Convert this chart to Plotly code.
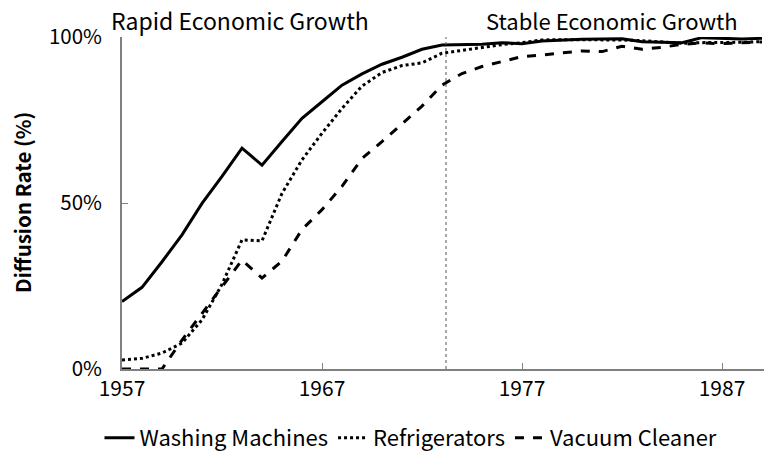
import plotly.graph_objects as go

years = list(range(1957, 1990))
washing = [20.3, 24.6, 32.3, 40.4, 49.9, 58.0, 66.5, 61.4, 68.5, 75.5, 80.5, 85.5, 88.9, 91.8, 93.9, 96.3, 97.6,
           97.6, 97.8, 98.3, 98.0, 98.8, 99.1, 99.3, 99.4, 99.5, 98.6, 98.4, 98.3, 99.8, 99.5, 99.4, 99.6]
fridge = [2.7, 3.2, 4.8, 7.8, 14.8, 25.5, 38.9, 38.6, 52.9, 63.0, 71.0, 78.5, 85.2, 89.3, 91.4, 92.2, 95.1,
          96.0, 97.0, 97.7, 98.3, 99.1, 99.2, 99.2, 99.1, 99.1, 98.9, 98.6, 98.1, 98.3, 98.3, 98.4, 98.6]
vacuum = [0.0, 0.0, 0.0, 8.7, 16.8, 24.8, 32.8, 27.4, 32.5, 42.0, 48.0, 55.0, 63.4, 68.5, 74.0, 79.2, 85.5,
          89.0, 91.1, 92.6, 94.1, 94.6, 95.3, 95.8, 95.6, 97.2, 96.3, 96.9, 97.8, 98.2, 98.0, 98.2, 98.5]
series_names = ["Washing Machines", "Refrigerators", "Vacuum Cleaner"]
period_labels = ["Rapid Economic Growth", "Stable Economic Growth"]
divider_year = 1973.2
x_ticks = [1957, 1967, 1977, 1987]
y_ticks = [0, 50, 100]
y_tick_text = ["0%", "50%", "100%"]

FONT = "Noto Sans CJK JP"
W, H = 764, 446

fig = go.Figure()
for vals, name, dash in zip([washing, fridge, vacuum], series_names, ["solid", "dot", "dash"]):
    fig.add_trace(go.Scatter(x=years, y=vals, name=name, mode="lines",
                             line=dict(color="black", width=3, dash=dash)))

fig.add_shape(type="line", x0=divider_year, x1=divider_year, y0=0, y1=1, xref="x", yref="paper",
              line=dict(color="#555555", width=1, dash="dot"))

fig.add_annotation(x=1962.9, y=1.0, xref="x", yref="paper", yshift=17, text=period_labels[0],
                   showarrow=False, xanchor="center", yanchor="middle",
                   font=dict(family=FONT, size=23, color="black"))
fig.add_annotation(x=1981.5, y=1.0, xref="x", yref="paper", yshift=17, text=period_labels[1],
                   showarrow=False, xanchor="center", yanchor="middle",
                   font=dict(family=FONT, size=22, color="black"))
fig.add_annotation(x=0, y=0.5, xref="paper", yref="paper", xshift=-100, text="<b>Diffusion Rate (%)</b>",
                   textangle=-90, showarrow=False, xanchor="center", yanchor="middle",
                   font=dict(family=FONT, size=20.5, color="black"))

fig.update_layout(
    width=W, height=H,
    margin=dict(l=114, r=0, t=29, b=85, autoexpand=False),
    plot_bgcolor="white", paper_bgcolor="white",
    font=dict(family=FONT, size=20, color="black"),
    showlegend=True,
    legend=dict(orientation="h", x=403 / W, xref="container", xanchor="center", y=16 / H, yref="container",
                yanchor="middle", font=dict(family=FONT, size=22), traceorder="normal"),
    xaxis=dict(range=[1957, 1989.5], tickvals=x_ticks, showgrid=False, zeroline=False, automargin=False,
               showline=True, linecolor="#808080", linewidth=2, ticks="inside", ticklen=6,
               tickcolor="#808080", tickfont=dict(family=FONT, size=21)),
    yaxis=dict(range=[0, 100], tickvals=y_ticks, ticktext=y_tick_text, showgrid=False, zeroline=False,
               automargin=False, ticklabelstandoff=14,
               showline=True, linecolor="#808080", linewidth=2, ticks="inside", ticklen=6,
               tickcolor="#808080", tickfont=dict(family=FONT, size=20.5)),
)

fig.write_html("out.html")
